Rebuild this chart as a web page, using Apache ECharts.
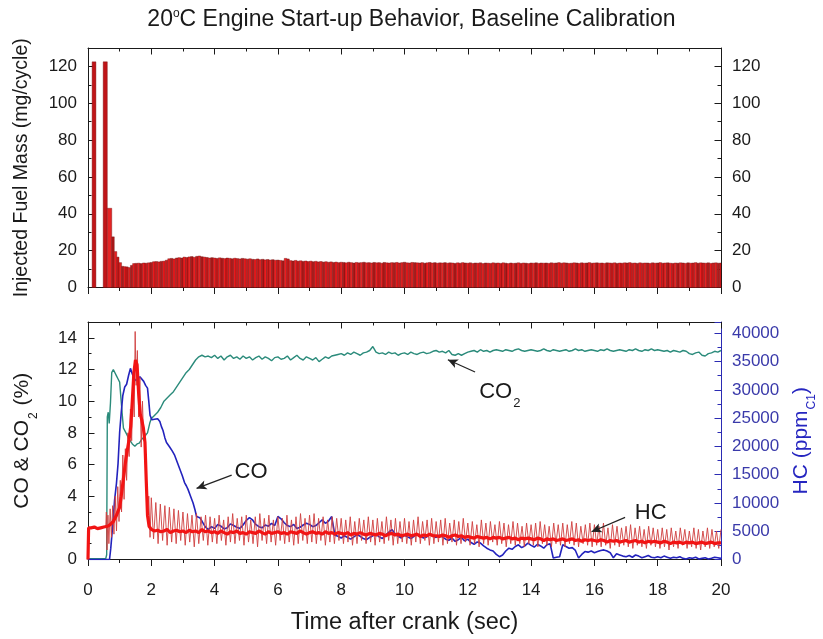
<!DOCTYPE html>
<html><head><meta charset="utf-8">
<script src="https://cdn.jsdelivr.net/npm/echarts@6/dist/echarts.min.js"></script>
<style>html,body{margin:0;padding:0;background:#fff}#c{width:823px;height:639px}</style>
</head><body><div id="c"></div>
<script>
// ---------- DATA ----------
// Top panel: injected fuel mass per cycle (mg/cycle)
var fuelStartBegin = [0.13,0.48,0.61,0.75,0.83,0.91,0.98,1.06,1.13,1.20,1.27,1.34,1.41];
var fuelStartEnd   = [0.25,0.61,0.75,0.83,0.91,0.98,1.06,1.13,1.20,1.27,1.34,1.41,1.48];
var fuelStartMass  = [122.5,122.5,43,27.5,19.5,16.5,13.5,11.5,11.3,11.2,10.8,12.0,13.0];
var fuelCycleStart = 1.48, fuelCycleSec = 0.08;
var fuelCycleMass = [
 13.1,13.2,13.0,13.3,13.2,13.4,13.6,
 14.0,14.1,13.9,14.2,14.3,14.8,
 15.6,15.8,15.5,16.0,16.2,16.0,
 16.5,16.3,16.6,16.8,16.4,16.9,
 17.1,16.7,16.5,16.3,16.0,16.2,
 16.0,15.8,16.1,15.9,15.7,16.0,15.8,15.6,15.9,15.7,15.5,15.8,15.6,
 15.4,15.6,15.3,15.2,15.5,15.1,15.3,15.0,15.2,14.9,15.1,14.8,
 14.9,14.7,14.5,15.8,15.5,14.6,14.4,14.7,14.3,14.5,14.2,14.4,14.1,
 14.3,14.0,14.2,13.9,14.1,13.8,14.0,13.7,13.9,13.6,13.8,13.5,13.7,
 13.6,13.4,13.7,13.5,13.3,13.6,13.4,13.5,13.7,13.4,
 13.5,13.3,13.6,13.4,13.5,13.2,13.6,13.4,13.3,13.5,
 13.4,13.6,13.3,13.5,13.7,13.4,13.3,13.6,13.5,13.4,
 13.3,13.5,13.2,13.4,13.6,13.3,13.5,13.2,13.4,13.3,
 13.5,13.2,13.4,13.3,13.1,13.4,13.2,13.5,13.3,13.2,
 13.4,13.1,13.3,13.2,13.4,13.0,13.3,13.2,13.1,13.4,
 13.2,13.3,13.1,13.4,13.2,13.0,13.3,13.1,13.2,13.4,
 13.1,13.3,13.2,13.0,13.3,13.2,13.4,13.1,13.3,13.2,
 13.3,13.1,13.4,13.2,13.3,13.5,13.2,13.4,13.3,13.1,
 13.2,13.4,13.3,13.1,13.4,13.2,13.3,13.5,13.2,13.3,
 13.4,13.2,13.3,13.1,13.4,13.3,13.2,13.4,13.1,13.3,
 13.2,13.4,13.3,13.5,13.2,13.3,13.1,13.4,13.2,13.3,
 13.3,13.1,13.4,13.2,13.3,13.5,13.2,13.3,13.4,13.2,
 13.1,13.3,13.2,13.4,13.3,13.1,13.4,13.2,13.3,13.5,
 13.2,13.4,13.3,13.2,13.4,13.1,13.3,13.4,13.2,13.3
];

// Bottom panel: CO2 (%), start-up then sampled every 0.1 s from 3.8 s
var co2StartTime = [0,0.56,0.59,0.61,0.64,0.67,0.71,0.75,0.8,0.85,0.9,0.95,1.0,1.05,1.08,1.12,1.2,1.3,1.4,1.48,1.55,1.62,1.7,1.8,1.88,1.95,2.0,2.1,2.2,2.3,2.4,2.5,2.6,2.7,2.8,2.9,3.0,3.1,3.2,3.3,3.4,3.5,3.6,3.7];
var co2StartPct  = [0.05,0.05,0.3,9.0,9.3,8.6,9.9,11.8,12.0,12.1,11.6,11.4,11.2,11.1,9.2,8.3,8.0,7.6,7.3,7.15,7.3,7.35,7.6,7.8,8.0,8.6,8.9,9.1,9.3,9.6,10.0,10.2,10.4,10.6,10.9,11.2,11.5,11.8,12.0,12.3,12.6,12.8,12.9,12.8];
var co2SampleStart = 3.8, co2SampleSec = 0.1;
var co2Pct = [
 12.85,12.75,
 12.9,12.7,12.85,12.6,12.8,12.9,12.7,12.8,12.65,12.85,
 12.7,12.8,12.6,12.75,12.85,12.65,12.8,12.7,12.55,12.75,
 12.8,12.65,12.7,12.85,12.6,12.75,12.9,12.7,12.6,12.8,
 12.7,12.6,12.75,12.5,12.65,12.8,12.7,12.85,12.9,12.95,
 13.0,12.9,13.05,12.95,13.1,13.0,12.9,13.05,13.1,13.2,
 13.45,13.1,13.0,13.05,12.95,13.1,13.0,13.05,12.9,13.0,
 13.05,12.95,13.1,13.0,12.95,13.05,13.1,13.0,13.05,13.15,
 13.2,13.1,13.15,13.05,13.2,12.95,12.9,13.0,12.9,13.0,
 13.1,13.15,13.2,13.1,13.25,13.15,13.2,13.1,13.2,13.25,
 13.2,13.15,13.25,13.2,13.15,13.25,13.3,13.2,13.15,13.2,
 13.25,13.2,13.15,13.2,13.3,13.2,13.15,13.25,13.2,13.15,
 13.2,13.25,13.15,13.2,13.3,13.2,13.25,13.15,13.2,13.25,
 13.2,13.15,13.25,13.2,13.3,13.2,13.15,13.2,13.25,13.2,
 13.15,13.25,13.2,13.3,13.2,13.15,13.25,13.2,13.3,13.2,
 13.25,13.2,13.15,13.2,13.1,13.2,13.15,13.1,13.2,13.15,
 13.0,12.95,13.05,13.1,12.9,12.85,13.0,13.05,13.15,13.1,
 13.2
];

// Bottom panel: HC (ppmC1), start-up then sampled every 0.1 s from 3.8 s
var hcStartTime = [0,0.68,0.72,0.78,0.84,0.9,0.95,1.0,1.05,1.1,1.16,1.22,1.28,1.34,1.4,1.46,1.52,1.58,1.64,1.7,1.76,1.82,1.88,1.92,1.96,2.02,2.1,2.2,2.27,2.32,2.37,2.43,2.48,2.53,2.58,2.66,2.74,2.82,2.9,2.98,3.05,3.11,3.16,3.24,3.32,3.38,3.43,3.53,3.6,3.7];
var hcStartPpm  = [0,0,2000,6000,10500,13500,17000,22500,26000,29000,30500,31000,32500,33800,32800,32000,31600,31700,32300,32400,31500,30800,30300,28000,25500,24700,24800,24900,24400,23500,22800,21500,20700,20400,19900,19200,18400,17200,16000,14800,13600,13000,12400,11200,10000,8800,7600,7400,6800,5800];
var hcSampleStart = 3.8, hcSampleSec = 0.1;
var hcPpm = [
 5300,5800,
 5500,6200,5900,5400,5600,6300,6000,5700,5500,6100,
 6900,7400,7000,6200,5800,5600,6100,5900,6400,6000,
 7600,7200,6500,6000,5800,6200,5500,5700,6100,6400,
 6200,5800,6000,6500,7000,6400,6800,7600,4300,4100,
 3800,4200,3900,3600,4000,4400,4100,3700,3500,3900,
 4200,4500,4000,3700,4300,4800,5300,4600,4100,3800,
 4300,4000,3700,4100,4500,4200,3800,4000,4400,4100,
 3900,4300,4000,3600,3400,3800,3200,3500,3900,3300,
 3600,3000,2700,3100,2900,2400,2000,1700,1500,900,
 500,800,1500,2000,1800,2300,2600,2100,2400,2900,
 2500,2200,2700,2400,2000,2600,2800,270,400,500,
 2600,2300,2000,2100,1600,270,900,1400,1300,1500,
 1200,1400,1600,1700,1500,1200,300,1000,800,600,
 500,700,400,800,600,300,500,700,400,300,
 500,300,600,400,200,400,300,500,200,100,
 300,200,400,100,200,300,100,200,400,300,
 200
];

// Bottom panel: red trace (%), mean band and cycle-resolved spikes
var redBandStartTime = [0,0.02,0.1,0.2,0.3,0.4,0.5,0.56,0.62,0.7,0.8,0.9,1.0,1.05,1.1,1.15,1.2,1.25,1.3,1.35,1.4,1.45,1.5,1.55,1.6,1.65,1.7,1.75,1.8,1.84,1.88,1.93];
var redBandStartPct  = [0,2.0,2.0,2.05,1.95,2.0,2.05,2.0,2.1,2.2,2.4,2.8,3.3,4.0,4.8,5.6,6.4,7.0,7.6,8.4,10.0,11.8,12.6,12.3,10.5,9.2,8.8,8.3,7.4,5.0,2.8,2.1];
var redBandSampleStart = 2.0, redBandSampleSec = 0.1;
var redBandPct = [
 1.9,1.8,1.85,1.75,1.8,1.9,1.7,1.8,1.85,1.75,
 1.8,1.7,1.85,1.75,1.8,1.7,1.9,1.75,1.8,1.7,
 1.75,1.65,1.8,1.7,1.6,1.75,1.7,1.8,1.65,1.7,
 1.6,1.75,1.7,1.65,1.8,1.7,1.6,1.75,1.65,1.7,
 1.75,1.65,1.7,1.6,1.75,1.7,1.65,1.8,1.7,1.6,
 1.7,1.75,1.65,1.7,1.6,1.75,1.65,1.7,1.6,1.7,
 1.65,1.6,1.7,1.55,1.65,1.6,1.7,1.6,1.55,1.65,
 1.6,1.55,1.65,1.6,1.5,1.6,1.65,1.55,1.6,1.5,
 1.55,1.6,1.5,1.55,1.6,1.45,1.55,1.5,1.6,1.5,
 1.5,1.45,1.55,1.5,1.4,1.5,1.55,1.45,1.5,1.4,
 1.45,1.4,1.35,1.45,1.4,1.35,1.4,1.3,1.4,1.35,
 1.4,1.3,1.35,1.4,1.3,1.35,1.25,1.35,1.3,1.35,
 1.3,1.25,1.35,1.3,1.2,1.3,1.25,1.3,1.2,1.25,
 1.3,1.2,1.25,1.3,1.2,1.25,1.15,1.25,1.2,1.25,
 1.2,1.15,1.25,1.2,1.1,1.2,1.15,1.2,1.1,1.15,
 1.2,1.1,1.15,1.2,1.1,1.15,1.05,1.15,1.1,1.15,
 1.1,1.05,1.15,1.1,1.0,1.1,1.05,1.1,1.0,1.1,
 1.05,1.1,1.0,1.05,1.1,1.0,1.05,1.1,1.0,1.05,
 1.05
];
var redSpikeStartTime = [0.56,0.58,0.6,0.63,0.66,0.7,0.74,0.78,0.82,0.86,0.9,0.94,0.98,1.02,1.06,1.1,1.14,1.18,1.22,1.26,1.3,1.34,1.38,1.42,1.46,1.49,1.52,1.56,1.6,1.64,1.68,1.72,1.76,1.8,1.84,1.88,1.92,1.96];
var redSpikeStartPct  = [2.0,3.0,0.6,2.8,1.0,3.2,1.4,3.4,1.6,4.0,1.8,4.6,2.4,5.0,3.0,6.6,3.8,7.0,5.0,8.0,6.5,9.5,7.5,11.3,9.0,14.4,11.0,13.2,9.0,11.5,7.1,10.0,7.5,8.0,4.5,2.6,4.0,1.4];
var redSpikeSampleStart = 2.0, redSpikeSampleSec = 1 / 14;
var redSpikePct = [
 3.9,1.3,3.6,1.0,3.5,1.2,3.4,0.9,3.3,1.1,3.2,1.0,3.1,1.2,
 3.0,0.9,2.9,1.1,2.8,0.8,2.9,1.0,2.7,1.2,2.8,0.9,2.7,1.1,
 2.6,1.0,2.8,1.2,2.5,0.9,2.7,1.1,2.9,1.0,2.6,1.2,2.7,0.9,
 2.8,1.1,2.5,1.0,2.7,0.8,2.9,1.2,2.6,1.0,2.8,1.1,2.5,0.9,
 2.7,1.2,2.6,1.0,2.8,1.1,2.5,0.9,2.7,1.0,2.9,1.2,2.6,1.0,
 2.8,1.1,2.9,1.0,2.6,1.2,2.7,0.9,2.5,1.1,2.7,1.0,2.6,1.2,
 2.6,1.0,2.5,1.1,2.7,0.9,2.4,1.0,2.6,1.2,2.5,1.0,2.7,1.1,
 2.5,0.9,2.6,1.1,2.4,1.0,2.7,1.2,2.5,0.9,2.6,1.0,2.4,1.1,
 2.6,1.0,2.4,0.9,2.5,1.1,2.7,1.0,2.4,1.2,2.5,0.9,2.6,1.0,
 2.4,1.1,2.5,0.9,2.6,1.0,2.3,1.1,2.5,0.9,2.4,1.0,2.6,1.1,
 2.3,0.9,2.4,1.0,2.2,0.8,2.5,1.0,2.3,0.9,2.4,1.1,2.2,0.9,
 2.4,1.0,2.3,0.8,2.2,1.0,2.4,0.9,2.3,1.0,2.1,0.8,2.3,1.0,
 2.2,0.9,2.3,0.8,2.4,1.0,2.2,0.9,2.1,0.8,2.3,1.0,2.2,0.9,
 2.3,0.8,2.2,1.0,2.4,0.9,2.3,0.8,2.1,1.0,2.2,0.9,2.3,0.8,
 2.2,0.9,2.1,0.8,2.3,0.9,2.0,0.7,2.2,0.9,2.1,0.8,2.0,0.9,
 2.1,0.8,2.2,0.7,2.0,0.9,2.1,0.8,1.9,0.7,2.1,0.9,2.0,0.8,
 1.9,0.7,2.0,0.8,1.9,0.6,2.0,0.8,1.8,0.7,2.0,0.9,1.9,0.7,
 1.8,0.8,2.0,0.7,1.9,0.6,1.8,0.8,2.0,0.7,1.9,0.8,1.8,0.7,
 1.9
];

// Tick labels
var xTicks = [0,2,4,6,8,10,12,14,16,18,20];
var fuelTicks = [0,20,40,60,80,100,120];
var pctTicks = [0,2,4,6,8,10,12,14];
var ppmTicks = [0,5000,10000,15000,20000,25000,30000,35000,40000];

// ---------- BUILD ----------
function pairs(times, vals){ var o=[]; for (var i=0;i<times.length;i++) o.push([times[i], vals[i]]); return o; }
function sampled(start, step, vals){ var o=[]; for (var i=0;i<vals.length;i++) o.push([+(start + i*step).toFixed(4), vals[i]]); return o; }

var fuelBars = [];
for (var i=0;i<fuelStartMass.length;i++) fuelBars.push([fuelStartBegin[i], fuelStartEnd[i], fuelStartMass[i], i]);
for (var j=0;j<fuelCycleMass.length;j++){
  var b = +(fuelCycleStart + j*fuelCycleSec).toFixed(4);
  fuelBars.push([b, +(b + fuelCycleSec).toFixed(4), fuelCycleMass[j], j + fuelStartMass.length]);
}
var co2Data = pairs(co2StartTime, co2StartPct).concat(sampled(co2SampleStart, co2SampleSec, co2Pct));
var hcData = pairs(hcStartTime, hcStartPpm).concat(sampled(hcSampleStart, hcSampleSec, hcPpm));
var redBandData = pairs(redBandStartTime, redBandStartPct).concat(sampled(redBandSampleStart, redBandSampleSec, redBandPct));
var redSpikeData = pairs(redSpikeStartTime, redSpikeStartPct).concat(sampled(redSpikeSampleStart, redSpikeSampleSec, redSpikePct));

var fuelColors = ['#ec1c1f','#c81a1b','#e42424','#ad1a1a'];
var FONT = '"Liberation Sans", Arial, sans-serif';
var INK = '#1a1a1a';
var BLUE = '#2b2bb3';

function only(list){ return function(v){ return list.indexOf(v) >= 0 ? String(v) : ''; }; }

function xAxis(grid, pos, labels, inside){
  return {
    type:'value', gridIndex:grid, position:pos, min:0, max:20, interval:2,
    axisLine:{show:true, onZero:false, lineStyle:{color:INK, width:1}},
    axisTick:{show:true, inside:inside, length:6.5, lineStyle:{color:INK, width:1}},
    minorTick:{show:true, splitNumber:2, length:3.5, lineStyle:{color:INK, width:1}},
    splitLine:{show:false}, minorSplitLine:{show:false},
    axisLabel:{show:labels, fontFamily:FONT, fontSize:17, color:INK, margin:22, formatter: only(xTicks)}
  };
}
function yAxis(grid, pos, max, interval, ticks, color, labels){
  return {
    type:'value', gridIndex:grid, position:pos, min:0, max:max, interval:interval,
    axisLine:{show:true, onZero:false, lineStyle:{color:color, width:1}},
    axisTick:{show:true, inside:true, length:6.5, lineStyle:{color:color, width:1}},
    minorTick:{show:true, splitNumber:2, length:3.5, lineStyle:{color:color, width:1}},
    splitLine:{show:false}, minorSplitLine:{show:false},
    axisLabel:{show:labels, fontFamily:FONT, fontSize:17, color:color, margin:11, formatter: only(ticks)}
  };
}

var xa = [xAxis(0,'bottom',false,false), xAxis(0,'top',false,true), xAxis(1,'bottom',true,false), xAxis(1,'top',false,true)];
xa[2].name = 'Time after crank (sec)';
xa[2].nameLocation = 'middle';
xa[2].nameGap = 51;
xa[2].nameTextStyle = {fontFamily:FONT, fontSize:23.5, color:INK};

var ya = [yAxis(0,'left',130,20,fuelTicks,INK,true), yAxis(0,'right',130,20,fuelTicks,INK,true),
          yAxis(1,'left',15,2,pctTicks,INK,true), yAxis(1,'right',42000,5000,ppmTicks,BLUE,true)];
ya[3].axisLabel.color = '#3a3aaa';
ya[0].name = 'Injected Fuel Mass (mg/cycle)';
ya[0].nameLocation = 'middle'; ya[0].nameRotate = 90; ya[0].nameGap = 56;
ya[0].nameTextStyle = {fontFamily:FONT, fontSize:19.5, color:INK};
ya[2].name = '{a|CO & CO}{s|2}{a| (%)}';
ya[2].nameLocation = 'middle'; ya[2].nameRotate = 90; ya[2].nameGap = 53;
ya[2].nameTextStyle = {fontFamily:FONT, fontSize:21, color:INK, rich:{
  a:{fontFamily:FONT, fontSize:21, color:INK, lineHeight:23, verticalAlign:'top'},
  s:{fontFamily:FONT, fontSize:12, color:INK, lineHeight:12, verticalAlign:'top', padding:[16,1,0,1]}}};
ya[3].name = '{a|HC (ppm}{s|C1}{a|)}';
ya[3].nameLocation = 'middle'; ya[3].nameRotate = 90; ya[3].nameGap = 70;
ya[3].nameTextStyle = {fontFamily:FONT, fontSize:21, color:BLUE, rich:{
  a:{fontFamily:FONT, fontSize:21, color:'#2626c0', lineHeight:23, verticalAlign:'top'},
  s:{fontFamily:FONT, fontSize:12, color:'#2626c0', lineHeight:12, verticalAlign:'top', padding:[15,0,0,1]}}};

var annRich = {
  a:{fontFamily:FONT, fontSize:22, color:INK, lineHeight:24, verticalAlign:'top'},
  s:{fontFamily:FONT, fontSize:13, color:INK, lineHeight:13, verticalAlign:'top', padding:[16,0,0,1]}
};

var option = {
  animation:false,
  backgroundColor:'#ffffff',
  title:{
    text:'20{o|o}C Engine Start-up Behavior, Baseline Calibration',
    left:'center', top:3,
    textStyle:{fontFamily:FONT, fontSize:23, fontWeight:'normal', color:INK,
      rich:{o:{fontFamily:FONT, fontSize:12, color:INK, lineHeight:12, verticalAlign:'top'}}}
  },
  grid:[
    {left:88, top:48, width:633, height:239.5, outerBoundsMode:'none', containLabel:false},
    {left:88, top:322, width:633, height:237.5, outerBoundsMode:'none', containLabel:false}
  ],
  xAxis: xa,
  yAxis: ya,
  series:[
    {
      type:'custom', name:'Injected fuel', xAxisIndex:0, yAxisIndex:0,
      data: fuelBars, encode:{x:[0,1], y:2},
      renderItem:function(params, api){
        var p0 = api.coord([api.value(0), 0]);
        var p1 = api.coord([api.value(1), api.value(2)]);
        var cs = params.coordSys;
        var r = echarts.graphic.clipRectByRect(
          {x:p0[0], y:p1[1], width:p1[0]-p0[0], height:p0[1]-p1[1]},
          {x:cs.x, y:cs.y, width:cs.width, height:cs.height});
        if (!r) return null;
        var ci = api.value(3);
        return {type:'rect', shape:r, style:{fill: ci < 2 ? '#c01518' : fuelColors[ci % 4], stroke:'#6e0d0d', lineWidth:0.4}};
      }
    },
    {
      type:'line', name:'CO2', xAxisIndex:2, yAxisIndex:2, data:co2Data,
      showSymbol:false, lineStyle:{color:'#2b8b7b', width:1.4}, itemStyle:{color:'#2b8b7b'}, z:2,
      markLine:{
        silent:true, symbol:['none','arrow'], symbolSize:[7,10],
        lineStyle:{color:'#222', width:1.2, type:'solid'}, label:{show:false},
        data:[
          [{coord:[12.23,11.84]},{coord:[11.37,12.62]}],
          [{coord:[4.54,5.33]},{coord:[3.43,4.49]}],
          [{coord:[16.97,2.66]},{coord:[15.91,1.75]}]
        ]
      },
      markPoint:{
        silent:true, symbol:'circle', symbolSize:1, itemStyle:{color:'rgba(0,0,0,0)'},
        label:{show:true, position:'inside', rich:annRich},
        data:[
          {coord:[13.01,10.5], label:{formatter:'{a|CO}{s|2}'}},
          {coord:[5.15,5.45], label:{formatter:'{a|CO}'}},
          {coord:[17.78,2.87], label:{formatter:'{a|HC}'}}
        ]
      }
    },
    {
      type:'line', name:'HC', xAxisIndex:2, yAxisIndex:3, data:hcData,
      showSymbol:false, lineStyle:{color:'#2323bd', width:1.6}, z:3
    },
    {
      type:'line', name:'CO spikes', xAxisIndex:2, yAxisIndex:2, data:redSpikeData,
      showSymbol:false, lineStyle:{color:'#cf3f3f', width:1, opacity:0.9}, z:4
    },
    {
      type:'line', name:'CO', xAxisIndex:2, yAxisIndex:2, data:redBandData,
      showSymbol:false, lineStyle:{color:'#f21414', width:3.2}, z:5
    }
  ]
};
var chart = echarts.init(document.getElementById('c'), null, {renderer:'canvas'});
chart.setOption(option);
</script></body></html>
